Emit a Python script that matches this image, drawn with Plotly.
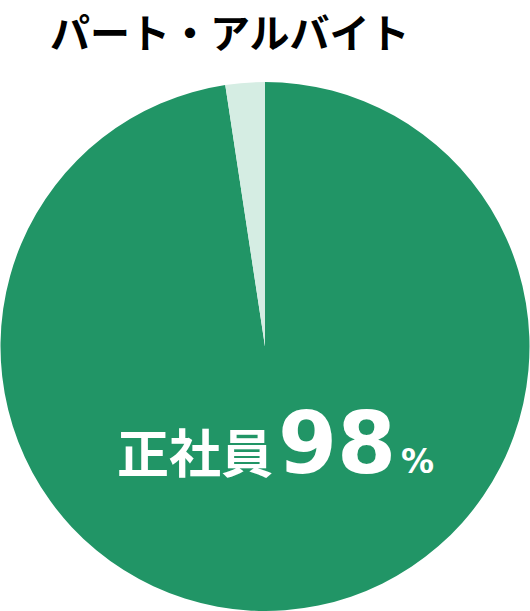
import plotly.graph_objects as go

labels = ["正社員", "パート・アルバイト"]
values = [97.6, 2.4]
colors = ["#219566", "#d5ede3"]
title_text = "パート・アルバイト"
main_label = "正社員"
main_pct = "98"

W, H = 530, 611

def py(y):
    return 1 - y / H

fig = go.Figure(go.Pie(
    labels=labels, values=values, sort=False, direction="clockwise", rotation=0,
    marker=dict(colors=colors, line=dict(width=0)),
    textinfo="none", hoverinfo="skip", showlegend=False,
    domain=dict(x=[0, 1], y=[0, py(82)]),
))

fig.add_annotation(
    x=48 / W, y=py(31), xref="paper", yref="paper", xanchor="left", yanchor="middle",
    text="<b>" + title_text + "</b>", showarrow=False,
    font=dict(family="Noto Sans CJK JP", size=40, color="#000000"),
)

fig.add_annotation(
    x=275 / W, y=py(443), xref="paper", yref="paper", xanchor="center", yanchor="middle",
    text=('<b><span style="font-family:Noto Sans CJK JP;font-size:52px">' + main_label + '</span>'
          '<span style="font-size:14px"> </span>'
          '<span style="font-size:85px">' + main_pct + '</span>'
          '<span style="font-size:14px"> </span>'
          '<span style="font-size:33px">%</span></b>'),
    showarrow=False,
    font=dict(family="DejaVu Sans", size=30, color="#ffffff"),
)

fig.update_layout(
    width=W, height=H, margin=dict(l=0, r=0, t=0, b=0),
    paper_bgcolor="#ffffff", plot_bgcolor="#ffffff",
)

fig.write_html(
    "out.html",
    config={"displayModeBar": False},
    post_script="document.body.style.margin='0';document.body.style.overflow='hidden';",
)
